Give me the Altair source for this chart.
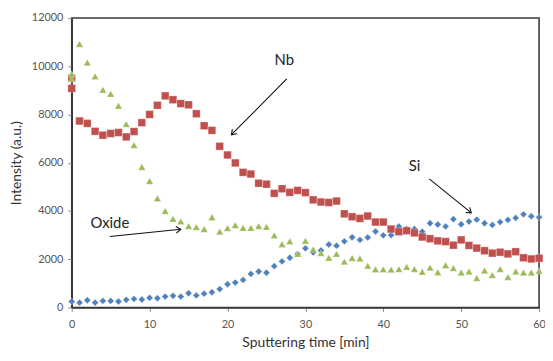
import math
import altair as alt
import pandas as pd

# ---- data ----
minutes = list(range(0, 61))

si = [245, 200, 300, 200, 270, 270, 245, 315, 355, 330,
      400, 380, 450, 480, 450, 590, 500, 570, 630, 760,
      960, 1030, 1140, 1390, 1490, 1440, 1710, 1910, 2060, 2220,
      2450, 2280, 2360, 2610, 2560, 2740, 2910, 2800, 2900, 3150,
      2990, 3000, 3360, 3250, 3250, 3140, 3490, 3440, 3360, 3660,
      3450, 3560, 3640, 3490, 3420, 3540, 3630, 3710, 3860, 3780,
      3740]

nb = [9080, 7730, 7630, 7300, 7140, 7210, 7250, 7070, 7290, 7660,
      8000, 8380, 8770, 8610, 8450, 8400, 8030, 7530, 7340, 6680,
      6320, 5990, 5600, 5530, 5150, 5110, 4730, 4920, 4770, 4850,
      4760, 4460, 4370, 4350, 4410, 3880, 3760, 3690, 3790, 3540,
      3540, 3250, 3140, 3180, 3090, 2920, 2850, 2760, 2730, 2580,
      2800, 2570, 2460, 2350, 2250, 2290, 2220, 2310, 2060, 2010,
      2040]

oxide = [9475, 10920, 10150, 9580, 9020, 8850, 8360, 7600, 6730, 5820,
         5240, 4520, 4000, 3670, 3570, 3370, 3330, 3250, 3740, 3140,
         3290, 3410, 3300, 3300, 3370, 3340, 2990, 2620, 2740, 2220,
         2760, 2410, 2250, 2060, 2220, 1900, 2050, 2030, 1730, 1580,
         1580, 1570, 1590, 1680, 1590, 1480, 1650, 1460, 1750, 1630,
         1450, 1490, 1220, 1530, 1340, 1590, 1260, 1490, 1450, 1450,
         1520]

# second readings at t = 0
extra_minutes = [0]
nb_extra = [9500]
oxide_extra = [9680]

series_names = ["Si", "Nb", "Oxide"]
series_colors = ["#4F81BD", "#C0504D", "#9BBB59"]
series_shapes = ["diamond", "square", "triangle-up"]
series_sizes = [48, 60, 55]

x_ticks = [0, 10, 20, 30, 40, 50, 60]
y_ticks = [0, 2000, 4000, 6000, 8000, 10000, 12000]

# annotations (data units)
ann_labels = ["Nb", "Si", "Oxide"]
ann_text_x = [27.3, 44.0, 4.9]
ann_text_y = [10250, 5880, 3480]
arrow_x1 = [27.6, 45.9, 4.9]
arrow_y1 = [9470, 5330, 2940]
arrow_x2 = [20.5, 51.3, 14.0]
arrow_y2 = [7160, 3920, 3240]

W, H = 473, 293
X_MAX, Y_MAX = 60, 12000

# ---- build tables ----
rows = []
for t, a, b, c in zip(minutes, si, nb, oxide):
    rows.append({"t": t, "v": a, "s": "Si"})
    rows.append({"t": t, "v": b, "s": "Nb"})
    rows.append({"t": t, "v": c, "s": "Oxide"})
for t, b, c in zip(extra_minutes, nb_extra, oxide_extra):
    rows.append({"t": t, "v": b, "s": "Nb"})
    rows.append({"t": t, "v": c, "s": "Oxide"})
df = pd.DataFrame(rows)

angles = []
for x1, y1, x2, y2 in zip(arrow_x1, arrow_y1, arrow_x2, arrow_y2):
    dx = (x2 - x1) * W / X_MAX
    dy = -(y2 - y1) * H / Y_MAX
    angles.append(math.degrees(math.atan2(dy, dx)) % 360)

ann = pd.DataFrame({
    "label": ann_labels, "tx": ann_text_x, "ty": ann_text_y,
    "x1": arrow_x1, "y1": arrow_y1, "x2": arrow_x2, "y2": arrow_y2,
    "ang": angles,
})

xscale = alt.Scale(domain=[0, X_MAX], nice=False, zero=False)
yscale = alt.Scale(domain=[0, Y_MAX], nice=False)

xax = alt.Axis(values=x_ticks, title="Sputtering time [min]", grid=False,
               tickSize=4, labelPadding=7, titlePadding=7, format="d",
               labelFlush=False)
yax = alt.Axis(values=y_ticks, title="Intensity (a.u.)", grid=False,
               tickSize=4, labelPadding=5, titlePadding=8, format="d",
               labelFlush=False)

layers = []
for name, col, shp, sz in zip(series_names, series_colors, series_shapes, series_sizes):
    layers.append(
        alt.Chart(df[df.s == name]).mark_point(
            shape=shp, filled=True, color=col, size=sz, opacity=1,
            stroke="#ffffff", strokeOpacity=0.35, strokeWidth=0.8
        ).encode(
            x=alt.X("t:Q", scale=xscale, axis=xax),
            y=alt.Y("v:Q", scale=yscale, axis=yax),
        )
    )

base_ann = alt.Chart(ann)
rules = base_ann.mark_rule(color="#111111", strokeWidth=1.1).encode(
    x=alt.X("x1:Q", scale=xscale), y=alt.Y("y1:Q", scale=yscale),
    x2="x2:Q", y2="y2:Q",
)
heads = base_ann.mark_point(
    shape="M-1,-0.7L0,0L-1,0.7", filled=False, color="#111111",
    strokeWidth=1.1, size=90, opacity=1
).encode(
    x=alt.X("x2:Q", scale=xscale), y=alt.Y("y2:Q", scale=yscale),
    angle=alt.Angle("ang:Q", scale=None),
)
texts = base_ann.mark_text(
    font="Lato", fontSize=15, color="#222222", align="center", baseline="middle"
).encode(
    x=alt.X("tx:Q", scale=xscale), y=alt.Y("ty:Q", scale=yscale),
    text="label:N",
)

chart = alt.layer(*layers, rules, heads, texts).properties(
    width=W, height=H,
    autosize=alt.AutoSizeParams(type="none"),
    padding={"left": 64.5, "top": 8, "right": 6, "bottom": 42},
).configure_view(
    stroke="#3a3a3a", strokeWidth=1.6
).configure_axis(
    domainColor="#3a3a3a", domainWidth=1.6, tickColor="#8a8a8a",
    labelFont="Lato", labelFontSize=11, labelColor="#555555",
    titleFont="Lato", titleFontSize=14, titleFontWeight="normal",
    titleColor="#333333",
)

chart.save("out.html", embed_options={"renderer": "svg", "actions": False})
